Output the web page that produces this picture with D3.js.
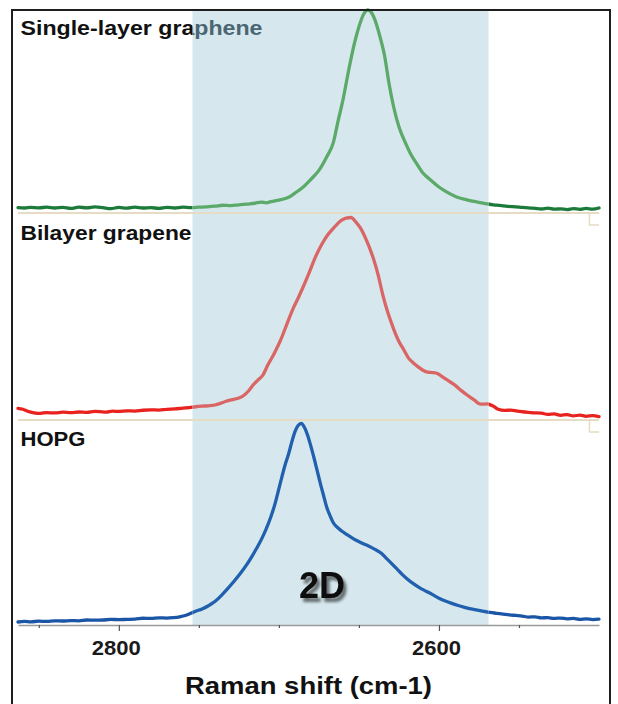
<!DOCTYPE html>
<html><head><meta charset="utf-8">
<script src="https://cdn.jsdelivr.net/npm/d3@7"></script>
<style>html,body{margin:0;padding:0;background:#fff;} svg{display:block;}</style>
</head><body>
<svg id="chart" width="618" height="704"></svg>
<script>
// ---------- data ----------
const panelLabels = ["Single-layer graphene", "Bilayer grapene", "HOPG"];
const tickValues = [2850, 2800, 2750, 2700, 2650, 2600, 2550];
const tickLabels = [2800, 2600];
const shiftDomain = [2863, 2500];
const bandRange = [2754, 2569];
const bandLabel = "2D";
const bandLabelShift = 2673;
const axisTitle = "Raman shift (cm-1)";

// [Raman shift (cm-1), normalised intensity]
const singleLayer = [[2500,0.000],[2504,-0.006],[2508,-0.002],[2512,-0.007],[2516,-0.003],[2520,-0.008],[2524,-0.004],[2528,-0.006],[2532,-0.001],[2536,-0.005],[2540,-0.002],[2544,0.001],[2548,0.003],[2552,0.006],[2557,0.008],[2562,0.013],[2566,0.016],[2570,0.021],[2576,0.030],[2582,0.040],[2589,0.056],[2595,0.080],[2600,0.106],[2605,0.140],[2610,0.177],[2614,0.225],[2618,0.278],[2621,0.330],[2625,0.410],[2628,0.500],[2631,0.620],[2634,0.770],[2637,0.870],[2640,0.950],[2642,0.985],[2644.5,1.000],[2647,0.980],[2650,0.915],[2653,0.825],[2656,0.712],[2660,0.545],[2663,0.440],[2666,0.330],[2670,0.260],[2675,0.190],[2680,0.145],[2685,0.105],[2690,0.075],[2693,0.058],[2695,0.050],[2700,0.040],[2705,0.032],[2708,0.026],[2711,0.030],[2715,0.024],[2720,0.020],[2725,0.016],[2730,0.012],[2735,0.014],[2740,0.009],[2745,0.006],[2750,0.004],[2755,0.002],[2760,0.004],[2765,0.000],[2770,0.003],[2775,-0.002],[2780,0.002],[2785,0.000],[2790,0.004],[2795,-0.001],[2800,0.003],[2805,-0.003],[2810,0.002],[2815,0.006],[2820,0.001],[2825,0.004],[2830,-0.002],[2835,0.003],[2840,0.000],[2845,0.004],[2850,0.001],[2855,0.003],[2859,0.000],[2863,0.002]];

const bilayer = [[2500,-0.024],[2504,-0.019],[2508,-0.022],[2512,-0.016],[2516,-0.020],[2520,-0.013],[2524,-0.017],[2528,-0.010],[2532,-0.012],[2536,-0.006],[2541,-0.004],[2546,0.000],[2551,0.004],[2555,0.010],[2559,0.008],[2563,0.014],[2566,0.030],[2570,0.042],[2574,0.040],[2578,0.062],[2582,0.085],[2586,0.110],[2590,0.138],[2594,0.160],[2598,0.182],[2601,0.198],[2604,0.203],[2607,0.205],[2610,0.215],[2613,0.232],[2616,0.252],[2619,0.277],[2622,0.320],[2625,0.362],[2628,0.420],[2630,0.465],[2633,0.540],[2635,0.600],[2638,0.705],[2641,0.790],[2645,0.877],[2649,0.945],[2652,0.978],[2655,1.000],[2658,0.997],[2661,0.985],[2664,0.962],[2667,0.935],[2670,0.905],[2673,0.865],[2677,0.800],[2681,0.718],[2685,0.640],[2688,0.585],[2691,0.534],[2695,0.452],[2699,0.368],[2703,0.300],[2707,0.240],[2710,0.190],[2713,0.165],[2716,0.140],[2719,0.108],[2722,0.085],[2725,0.072],[2729,0.064],[2733,0.055],[2736,0.046],[2740,0.036],[2744,0.032],[2748,0.030],[2752,0.027],[2756,0.022],[2760,0.020],[2765,0.016],[2770,0.014],[2775,0.010],[2780,0.011],[2785,0.009],[2790,0.005],[2795,0.006],[2800,0.003],[2804,0.004],[2808,-0.001],[2812,0.002],[2815,0.003],[2820,-0.002],[2825,0.000],[2830,-0.003],[2835,-0.001],[2840,-0.005],[2845,-0.003],[2849,-0.007],[2853,-0.004],[2857,0.004],[2860,0.014],[2863,0.019]];

const hopg = [[2500,0.014],[2504,0.012],[2508,0.016],[2512,0.013],[2516,0.018],[2520,0.016],[2524,0.020],[2528,0.018],[2532,0.022],[2536,0.021],[2540,0.026],[2544,0.025],[2548,0.030],[2552,0.033],[2556,0.036],[2560,0.040],[2564,0.044],[2568,0.048],[2572,0.053],[2576,0.060],[2580,0.066],[2584,0.074],[2588,0.083],[2592,0.094],[2596,0.106],[2600,0.120],[2604,0.138],[2608,0.155],[2612,0.172],[2616,0.193],[2620,0.218],[2623,0.240],[2626,0.265],[2630,0.298],[2633,0.322],[2636,0.346],[2640,0.366],[2644,0.383],[2648,0.397],[2652,0.413],[2655,0.428],[2658,0.443],[2661,0.460],[2664,0.480],[2666,0.500],[2668,0.535],[2670,0.575],[2672,0.635],[2674,0.695],[2676,0.760],[2678,0.825],[2680,0.885],[2682,0.940],[2684,0.980],[2686,1.000],[2688,0.990],[2690,0.958],[2692,0.905],[2694,0.845],[2696,0.795],[2698,0.735],[2700,0.672],[2702,0.608],[2705,0.530],[2708,0.468],[2711,0.415],[2714,0.370],[2717,0.328],[2720,0.290],[2724,0.245],[2728,0.205],[2732,0.168],[2736,0.133],[2740,0.103],[2744,0.082],[2748,0.066],[2752,0.054],[2755,0.044],[2758,0.034],[2762,0.026],[2766,0.022],[2770,0.020],[2775,0.021],[2780,0.018],[2785,0.019],[2790,0.014],[2795,0.013],[2800,0.012],[2805,0.013],[2810,0.010],[2815,0.009],[2820,0.010],[2825,0.006],[2830,0.007],[2835,0.005],[2840,0.006],[2845,0.003],[2850,0.004],[2855,0.001],[2859,0.003],[2863,0.000]];

// ---------- drawing ----------
const FONT = "'Liberation Sans', Arial, Helvetica, sans-serif";
const svg = d3.select("#chart");
const x = d3.scaleLinear().domain(shiftDomain).range([18, 599]);
const plotTop = 10, axisY = 625;

const panels = [
  {data: singleLayer, label: panelLabels[0], y: d3.scaleLinear().domain([0, 1]).range([208, 10]),
   dark: "#1c7b3a", light: "#5caa69", labelY: 34.5, labelLen: 242, sepY: 213},
  {data: bilayer, label: panelLabels[1], y: d3.scaleLinear().domain([0, 1]).range([412, 217.5]),
   dark: "#e8221e", light: "#d96565", labelY: 240, labelLen: 171, sepY: 420},
  {data: hopg, label: panelLabels[2], y: d3.scaleLinear().domain([0, 1]).range([622, 423.5]),
   dark: "#1a55a6", light: "#2060ae", labelY: 446, labelLen: 65, sepY: null}
];

const bx0 = x(bandRange[0]), bx1 = x(bandRange[1]);
const defs = svg.append("defs");
defs.append("clipPath").attr("id", "clipIn").append("rect")
  .attr("x", bx0).attr("y", 0).attr("width", bx1 - bx0).attr("height", 704);
const cOut = defs.append("clipPath").attr("id", "clipOut");
cOut.append("rect").attr("x", 0).attr("y", 0).attr("width", bx0).attr("height", 704);
cOut.append("rect").attr("x", bx1).attr("y", 0).attr("width", 618 - bx1).attr("height", 704);

const f = defs.append("filter").attr("id", "shadow").attr("x", "-20%").attr("y", "-20%").attr("width", "160%").attr("height", "160%");
f.append("feGaussianBlur").attr("in", "SourceAlpha").attr("stdDeviation", 1.6).attr("result", "b");
f.append("feOffset").attr("in", "b").attr("dx", 3).attr("dy", 3.5).attr("result", "o");
f.append("feComponentTransfer").attr("in", "o").attr("result", "o2")
  .append("feFuncA").attr("type", "linear").attr("slope", 0.55);
const fm = f.append("feMerge");
fm.append("feMergeNode").attr("in", "o2");
fm.append("feMergeNode").attr("in", "SourceGraphic");

svg.append("rect").attr("width", 618).attr("height", 704).attr("fill", "#fff");

// shaded 2D band
svg.append("rect").attr("x", bx0).attr("y", plotTop).attr("width", bx1 - bx0)
  .attr("height", axisY - plotTop).attr("fill", "#d6e8ee");

// panel separators with small end brackets
panels.filter(p => p.sepY !== null).forEach(p => {
  svg.append("line").attr("x1", x(shiftDomain[0])).attr("x2", x(shiftDomain[1]))
    .attr("y1", p.sepY).attr("y2", p.sepY)
    .attr("stroke", "#e6dcc4").attr("stroke-width", 1.8);
  svg.append("path")
    .attr("d", `M${x(2506)},${p.sepY}V${p.sepY + 12}H${x(shiftDomain[1])}`)
    .attr("fill", "none").attr("stroke", "#e6dcc4").attr("stroke-width", 1.5);
});

// spectra
panels.forEach(p => {
  const line = d3.line().x(d => x(d[0])).y(d => p.y(d[1])).curve(d3.curveMonotoneX);
  [["clipOut", p.dark], ["clipIn", p.light]].forEach(([clip, col]) => {
    svg.append("path").datum(p.data).attr("d", line)
      .attr("clip-path", `url(#${clip})`)
      .attr("fill", "none").attr("stroke", col).attr("stroke-width", 3.3)
      .attr("stroke-linejoin", "round").attr("stroke-linecap", "round");
  });
});

// panel labels (faded where under the band)
panels.forEach(p => {
  [["clipOut", "#111"], ["clipIn", "#4b6672"]].forEach(([clip, col]) => {
    svg.append("text").attr("x", 20.5).attr("y", p.labelY)
      .attr("clip-path", `url(#${clip})`)
      .attr("font-family", FONT).attr("font-weight", "bold").attr("font-size", 20)
      .attr("textLength", p.labelLen).attr("lengthAdjust", "spacingAndGlyphs")
      .attr("fill", col).text(p.label);
  });
});

// x axis
const axis = d3.axisBottom(x).tickValues(tickValues).tickSizeOuter(0).tickSizeInner(3)
  .tickFormat(d => tickLabels.includes(d) ? d : "");
const gAxis = svg.append("g").attr("transform", `translate(0,${axisY})`).call(axis);
gAxis.select(".domain").attr("stroke", "#9a9a9a").attr("stroke-width", 1.6);
gAxis.selectAll(".tick line").attr("stroke", "#555").attr("stroke-width", 1.2)
  .attr("y2", d => tickLabels.includes(d) ? 6 : 3);
gAxis.selectAll(".tick text").attr("y", 30).attr("dy", 0).attr("dx", -3)
  .attr("font-family", FONT).attr("font-weight", "bold").attr("font-size", 20.5)
  .attr("textLength", 49).attr("lengthAdjust", "spacingAndGlyphs")
  .attr("fill", "#1a1a1a");

// 2D label
svg.append("text").attr("x", x(bandLabelShift)).attr("y", 598).attr("text-anchor", "middle")
  .attr("font-family", FONT).attr("font-weight", "bold").attr("font-size", 36)
  .attr("fill", "#111").attr("filter", "url(#shadow)").text(bandLabel);

// axis title
svg.append("text").attr("x", 308.5).attr("y", 693.5).attr("text-anchor", "middle")
  .attr("font-family", FONT).attr("font-weight", "bold").attr("font-size", 24)
  .attr("textLength", 247).attr("lengthAdjust", "spacingAndGlyphs")
  .attr("fill", "#111").text(axisTitle);

// frame
svg.append("rect").attr("x", 12).attr("y", 10).attr("width", 598).attr("height", 720)
  .attr("fill", "none").attr("stroke", "#1e1e1e").attr("stroke-width", 2);
</script>
</body></html>
